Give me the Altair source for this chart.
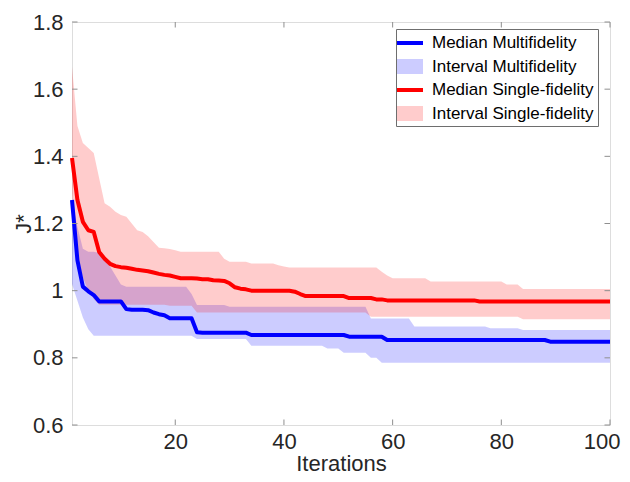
import altair as alt
import pandas as pd

iterations = list(range(1, 101))

blue_med = [
    1.27, 1.09, 1.012, 0.998, 0.987, 0.968, 0.968, 0.968, 0.968, 0.968,
    0.945, 0.943, 0.943, 0.943, 0.942, 0.935, 0.93, 0.927, 0.918, 0.918,
    0.918, 0.918, 0.918, 0.876, 0.875, 0.875, 0.875, 0.875, 0.875, 0.875,
    0.875, 0.875, 0.875, 0.868, 0.868, 0.868, 0.868, 0.868, 0.868, 0.868,
    0.868, 0.868, 0.868, 0.868, 0.868, 0.868, 0.868, 0.868, 0.868, 0.868,
    0.868, 0.863, 0.863, 0.863, 0.863, 0.863, 0.863, 0.863, 0.853, 0.853,
    0.853, 0.853, 0.853, 0.853, 0.853, 0.853, 0.853, 0.853, 0.853, 0.853,
    0.853, 0.853, 0.853, 0.853, 0.853, 0.853, 0.853, 0.853, 0.853, 0.853,
    0.853, 0.853, 0.853, 0.853, 0.853, 0.853, 0.853, 0.853, 0.848, 0.848,
    0.848, 0.848, 0.848, 0.848, 0.848, 0.848, 0.848, 0.848, 0.848, 0.848,
]
blue_hi = [
    1.27, 1.19, 1.125, 1.116, 1.116, 1.112, 1.09, 1.072, 1.045, 1.018,
    1.012, 1.012, 1.012, 1.012, 1.012, 1.012, 1.012, 1.012, 1.012, 1.012,
    1.012, 1.012, 0.99, 0.957, 0.957, 0.957, 0.957, 0.957, 0.957, 0.952,
    0.952, 0.952, 0.952, 0.952, 0.952, 0.952, 0.952, 0.952, 0.952, 0.952,
    0.952, 0.952, 0.952, 0.952, 0.952, 0.952, 0.952, 0.952, 0.952, 0.952,
    0.952, 0.952, 0.952, 0.952, 0.952, 0.917, 0.917, 0.917, 0.917, 0.917,
    0.917, 0.917, 0.917, 0.893, 0.893, 0.893, 0.893, 0.893, 0.893, 0.893,
    0.893, 0.893, 0.893, 0.893, 0.893, 0.893, 0.893, 0.888, 0.888, 0.888,
    0.888, 0.888, 0.888, 0.883, 0.883, 0.883, 0.883, 0.883, 0.883, 0.883,
    0.883, 0.883, 0.883, 0.883, 0.883, 0.883, 0.883, 0.883, 0.883, 0.883,
]
blue_lo = [
    1.02, 0.97, 0.92, 0.885, 0.866, 0.866, 0.866, 0.866, 0.866, 0.866,
    0.866, 0.866, 0.866, 0.866, 0.866, 0.866, 0.866, 0.866, 0.866, 0.866,
    0.866, 0.866, 0.866, 0.856, 0.856, 0.856, 0.856, 0.856, 0.856, 0.856,
    0.856, 0.856, 0.856, 0.836, 0.836, 0.836, 0.836, 0.836, 0.836, 0.836,
    0.836, 0.836, 0.836, 0.836, 0.836, 0.836, 0.836, 0.828, 0.828, 0.828,
    0.815, 0.815, 0.815, 0.815, 0.815, 0.80, 0.80, 0.785, 0.785, 0.785,
    0.785, 0.785, 0.785, 0.785, 0.785, 0.785, 0.785, 0.785, 0.785, 0.785,
    0.785, 0.785, 0.785, 0.785, 0.785, 0.785, 0.785, 0.785, 0.785, 0.785,
    0.785, 0.785, 0.785, 0.785, 0.785, 0.785, 0.785, 0.785, 0.785, 0.785,
    0.785, 0.785, 0.785, 0.785, 0.785, 0.785, 0.785, 0.785, 0.785, 0.785,
]
red_med = [
    1.395, 1.27, 1.205, 1.18, 1.175, 1.115, 1.095, 1.08, 1.073, 1.07,
    1.068, 1.065, 1.062, 1.06, 1.058, 1.054, 1.05, 1.047, 1.045, 1.041,
    1.037, 1.037, 1.037, 1.036, 1.034, 1.034, 1.031, 1.03, 1.029, 1.022,
    1.01, 1.006, 1.004, 1.0, 1.0, 1.0, 1.0, 1.0, 1.0, 1.0,
    1.0, 0.997, 0.99, 0.984, 0.984, 0.984, 0.984, 0.984, 0.984, 0.984,
    0.984, 0.978, 0.978, 0.978, 0.978, 0.978, 0.974, 0.974, 0.971, 0.971,
    0.971, 0.971, 0.971, 0.971, 0.971, 0.971, 0.971, 0.971, 0.971, 0.971,
    0.971, 0.971, 0.971, 0.971, 0.971, 0.968, 0.968, 0.968, 0.968, 0.968,
    0.968, 0.968, 0.968, 0.968, 0.968, 0.968, 0.968, 0.968, 0.968, 0.968,
    0.968, 0.968, 0.968, 0.968, 0.968, 0.968, 0.968, 0.968, 0.968, 0.968,
]
red_hi = [
    1.667, 1.49, 1.44, 1.425, 1.41, 1.335, 1.26, 1.25, 1.235, 1.225,
    1.22, 1.2, 1.18, 1.175, 1.162, 1.145, 1.128, 1.126, 1.124, 1.12,
    1.116, 1.116, 1.116, 1.116, 1.116, 1.116, 1.116, 1.116, 1.095, 1.086,
    1.086, 1.086, 1.086, 1.081, 1.081, 1.081, 1.081, 1.081, 1.076, 1.072,
    1.069, 1.069, 1.069, 1.069, 1.069, 1.069, 1.069, 1.069, 1.069, 1.069,
    1.069, 1.069, 1.069, 1.069, 1.069, 1.069, 1.069, 1.056, 1.045, 1.037,
    1.037, 1.037, 1.037, 1.037, 1.037, 1.037, 1.027, 1.027, 1.027, 1.027,
    1.027, 1.027, 1.027, 1.027, 1.027, 1.027, 1.027, 1.027, 1.027, 1.027,
    1.018, 1.018, 1.018, 1.005, 1.005, 1.005, 1.005, 1.005, 1.005, 1.005,
    1.005, 1.005, 1.005, 1.005, 1.005, 1.005, 1.005, 1.005, 1.005, 1.005,
]
red_lo = [
    1.29, 1.10, 1.04, 1.0, 0.975, 0.958, 0.958, 0.958, 0.958, 0.958,
    0.958, 0.958, 0.958, 0.958, 0.958, 0.958, 0.958, 0.958, 0.955, 0.955,
    0.955, 0.955, 0.955, 0.935, 0.935, 0.935, 0.935, 0.935, 0.935, 0.935,
    0.935, 0.935, 0.935, 0.935, 0.935, 0.935, 0.935, 0.935, 0.935, 0.935,
    0.935, 0.935, 0.935, 0.935, 0.935, 0.935, 0.935, 0.935, 0.935, 0.935,
    0.935, 0.935, 0.935, 0.935, 0.935, 0.922, 0.922, 0.922, 0.922, 0.922,
    0.922, 0.922, 0.922, 0.922, 0.922, 0.922, 0.922, 0.922, 0.922, 0.922,
    0.922, 0.922, 0.922, 0.922, 0.922, 0.922, 0.922, 0.922, 0.922, 0.922,
    0.922, 0.922, 0.922, 0.915, 0.915, 0.915, 0.915, 0.915, 0.915, 0.915,
    0.915, 0.915, 0.915, 0.915, 0.915, 0.915, 0.915, 0.915, 0.915, 0.915,
]

x_ticks = [20, 40, 60, 80, 100]
y_ticks = [0.6, 0.8, 1.0, 1.2, 1.4, 1.6, 1.8]

legend_labels = ["Median Multifidelity", "Interval Multifidelity",
                 "Median Single-fidelity", "Interval Single-fidelity"]
legend_colors = ["#0000ff", "#ccccff", "#ff0000", "#ffcccc"]
LINE_PATH = "M-1.3,-0.2H1.3V0.2H-1.3Z"
SWATCH_PATH = "M-1.3,-0.75H1.3V0.75H-1.3Z"
legend_shapes = [LINE_PATH, SWATCH_PATH, LINE_PATH, SWATCH_PATH]

df = pd.DataFrame({
    "it": iterations,
    "blue_med": blue_med, "blue_hi": blue_hi, "blue_lo": blue_lo,
    "red_med": red_med, "red_hi": red_hi, "red_lo": red_lo,
})
xt_df = pd.DataFrame({"v": x_ticks})
yt_df = pd.DataFrame({"v": y_ticks})
leg_df = pd.DataFrame({"label": legend_labels})

W, H = 538, 403
FONT = "Liberation Sans"
TXT = "#262626"
AXC = "#8f8f8f"
TL = 5.5
FS = 22

xs = alt.Scale(domain=[1, 100], nice=False, zero=False)
ys = alt.Scale(domain=[0.6, 1.8], nice=False, zero=False)

xaxis = alt.Axis(values=x_ticks, tickSize=0, domain=False, grid=False,
                 labelFlush=True, labelFlushOffset=10,
                 labelFont=FONT, labelFontSize=FS, labelColor=TXT, labelPadding=6,
                 title="Iterations", titleFont=FONT, titleFontSize=FS,
                 titleFontWeight="normal", titleColor=TXT,
                 titleBaseline="alphabetic", titleY=45, titleX=W / 2)
yaxis = alt.Axis(values=y_ticks, tickSize=0, domain=False, grid=False, format="~g",
                 labelFlush=False,
                 labelFont=FONT, labelFontSize=FS, labelColor=TXT, labelPadding=9,
                 title="J*", titleFont=FONT, titleFontSize=FS,
                 titleFontWeight="normal", titleColor=TXT, titlePadding=-3)

X = alt.X("it:Q", scale=xs, axis=xaxis)

base = alt.Chart(df)
band_blue = base.mark_area(color="#0000ff", opacity=0.2).encode(
    x=X, y=alt.Y("blue_lo:Q", scale=ys, axis=yaxis), y2="blue_hi:Q")
band_red = base.mark_area(color="#ff0000", opacity=0.2).encode(
    x=X, y=alt.Y("red_lo:Q", scale=ys, axis=yaxis), y2="red_hi:Q")
line_blue = base.mark_line(color="#0000ff", strokeWidth=4, strokeJoin="round").encode(
    x=X, y=alt.Y("blue_med:Q", scale=ys, axis=yaxis))
line_red = base.mark_line(color="#ff0000", strokeWidth=4, strokeJoin="round").encode(
    x=X, y=alt.Y("red_med:Q", scale=ys, axis=yaxis))

XT = alt.X("v:Q", scale=xs, axis=xaxis)
YT = alt.Y("v:Q", scale=ys, axis=yaxis)
tick_bottom = alt.Chart(xt_df).mark_rule(color=AXC, strokeWidth=1).encode(
    x=XT, y=alt.value(H), y2=alt.value(H - TL))
tick_top = alt.Chart(xt_df).mark_rule(color=AXC, strokeWidth=1).encode(
    x=XT, y=alt.value(0), y2=alt.value(TL))
tick_left = alt.Chart(yt_df).mark_rule(color=AXC, strokeWidth=1).encode(
    y=YT, x=alt.value(0), x2=alt.value(TL))
tick_right = alt.Chart(yt_df).mark_rule(color=AXC, strokeWidth=1).encode(
    y=YT, x=alt.value(W), x2=alt.value(W - TL))

leg = alt.Legend(title=None, orient="none", legendX=324, legendY=7,
                 padding=4, strokeColor="#6e6e6e", fillColor="white",
                 symbolSize=400, symbolOpacity=1, symbolStrokeWidth=0,
                 labelFont=FONT, labelFontSize=17, labelColor="#000000",
                 labelOffset=12, rowPadding=5.5, labelLimit=300)
legend_layer = alt.Chart(leg_df).mark_point(filled=True, opacity=0).encode(
    color=alt.Color("label:N", scale=alt.Scale(domain=legend_labels, range=legend_colors), legend=leg),
    shape=alt.Shape("label:N", scale=alt.Scale(domain=legend_labels, range=legend_shapes), legend=leg),
)

chart = alt.layer(
    band_blue, band_red, line_blue, line_red,
    tick_bottom, tick_top, tick_left, tick_right, legend_layer
).properties(
    width=W, height=H,
    autosize=alt.AutoSizeParams(type="none"),
    padding={"left": 64, "top": 14, "right": 12, "bottom": 49},
).configure_view(stroke=AXC, strokeWidth=1).configure(background="white")

chart.save("out.html", embed_options={"renderer": "svg", "actions": False})
